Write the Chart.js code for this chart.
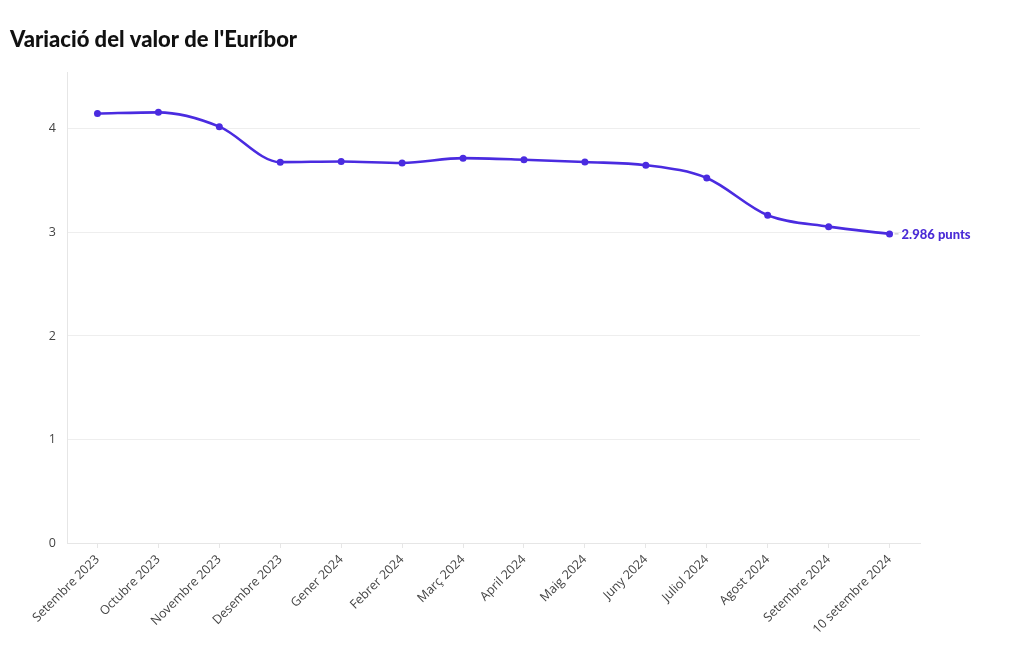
<!DOCTYPE html>
<html>
<head>
<meta charset="utf-8">
<script src="https://cdn.jsdelivr.net/npm/chart.js@4"></script>
<style>
  html, body { margin: 0; padding: 0; background: #fff; }
  #wrap { position: relative; width: 1020px; height: 650px; }
</style>
</head>
<body>
<div id="wrap"><canvas id="euriborChart"></canvas></div>
<script>
const titleText = "Variació del valor de l'Euríbor";
const months = ['Setembre 2023', 'Octubre 2023', 'Novembre 2023', 'Desembre 2023', 'Gener 2024',
    'Febrer 2024', 'Març 2024', 'April 2024', 'Maig 2024', 'Juny 2024', 'Juliol 2024',
    'Agost 2024', 'Setembre 2024', '10 setembre 2024'];
const euribor = [4.149, 4.160, 4.022, 3.679, 3.686, 3.671, 3.718, 3.703, 3.680, 3.650, 3.526, 3.166, 3.056, 2.986];
const yTicks = [0, 1, 2, 3, 4];
const lineColor = '#4a2be0';

// titol a dalt a l'esquerra
const titlePlugin = {
    id: 'titleLeft',
    afterDraw: function(chart) {
        const ctx = chart.ctx;
        ctx.save();
        ctx.font = '900 22px Lato, sans-serif';
        ctx.fillStyle = '#111';
        ctx.textBaseline = 'alphabetic';
        ctx.fillText(titleText, 10, 47);
        ctx.restore();
    }
};

// etiqueta al final de la linia
const endLabel = {
    id: 'endLabel',
    afterDatasetsDraw: function(chart) {
        const meta = chart.getDatasetMeta(0);
        const last = meta.data[meta.data.length - 1];
        const val = euribor[euribor.length - 1];
        const ctx = chart.ctx;
        ctx.save();
        ctx.strokeStyle = '#bbb';
        ctx.lineWidth = 1;
        ctx.beginPath();
        ctx.moveTo(last.x + 5, last.y);
        ctx.lineTo(last.x + 9, last.y);
        ctx.stroke();
        ctx.font = '900 13px Lato, sans-serif';
        ctx.fillStyle = '#4a2bd6';
        ctx.textBaseline = 'middle';
        ctx.fillText(val.toFixed(3) + ' punts', last.x + 12, last.y + 1);
        ctx.restore();
    }
};

new Chart(document.getElementById('euriborChart'), {
    type: 'line',
    data: {
        labels: months,
        datasets: [{
            data: euribor,
            borderColor: lineColor,
            backgroundColor: lineColor,
            borderWidth: 2.6,
            pointRadius: 3.5,
            pointBackgroundColor: lineColor,
            pointBorderWidth: 0,
            cubicInterpolationMode: 'monotone',
            fill: false
        }]
    },
    options: {
        responsive: true,
        maintainAspectRatio: false,
        animation: false,
        layout: { padding: { left: 10, right: 100, top: 72, bottom: 0 } },
        scales: {
            x: {
                offset: true,
                grid: {
                    display: true,
                    drawOnChartArea: false,
                    drawTicks: true,
                    tickLength: 5,
                    color: '#e6e6e6'
                },
                border: { color: '#e6e6e6' },
                ticks: {
                    minRotation: 45,
                    maxRotation: 45,
                    autoSkip: false,
                    color: '#444',
                    font: { family: 'Open Sans', size: 12.5 },
                    padding: 4
                },
                afterFit: function(scale) { scale.height = 107; }
            },
            y: {
                min: 0,
                max: 4.55,
                afterBuildTicks: function(scale) {
                    scale.ticks = yTicks.map(v => ({ value: v }));
                },
                grid: { color: '#eeeeee', drawTicks: false },
                border: { color: '#e6e6e6' },
                ticks: {
                    color: '#444',
                    font: { family: 'Open Sans', size: 12.5 },
                    padding: 11
                },
                afterFit: function(scale) { scale.width = 57; }
            }
        },
        plugins: {
            legend: { display: false },
            tooltip: { enabled: false }
        }
    },
    plugins: [titlePlugin, endLabel]
});
</script>
</body>
</html>
